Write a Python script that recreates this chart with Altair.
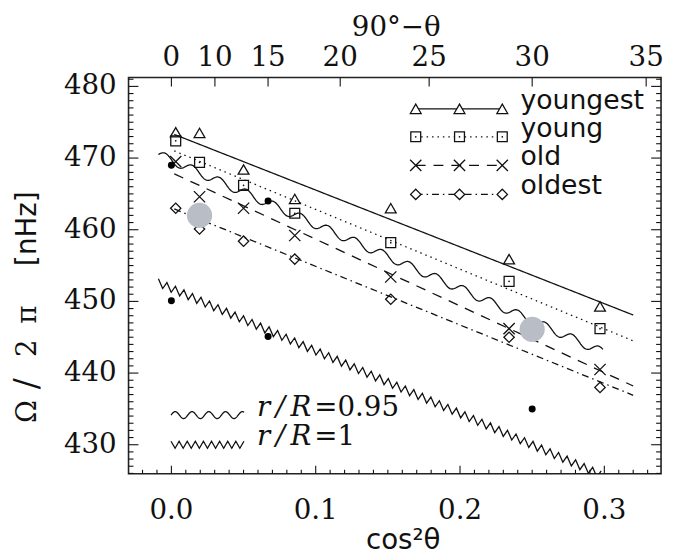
import altair as alt
import numpy as np
import pandas as pd

# ---------------- data ----------------
x_pts = [0.003, 0.0195, 0.050, 0.0855, 0.152, 0.234, 0.297]
youngest = [473.6, 473.5, 468.4, 464.3, 463.0, 455.9, 449.3]
young = [472.4, 469.4, 466.2, 462.3, 458.2, 452.8, 446.2]
old = [469.5, 464.6, 463.0, 459.2, 453.4, 446.2, 440.5]
oldest = [463.0, 460.1, 458.4, 455.9, 450.3, 445.0, 438.0]

fit_x = [0.002, 0.32]
fit_youngest = [473.3, 448.1]
fit_young = [471.0, 444.5]
fit_old = [467.8, 438.2]
fit_oldest = [462.9, 436.9]

dots_x = [0.0, 0.067, 0.0, 0.067, 0.25]
dots_y = [469.0, 464.0, 450.1, 445.1, 435.0]

big_x = [0.0195, 0.25]
big_y = [462.0, 446.1]

wave95_x = [-0.009, 0.299]
wave95_y = [470.5, 442.9]
wave1_x = [-0.009, 0.300]
wave1_y = [452.6, 425.6]

x_ticks = [0.0, 0.1, 0.2, 0.3]
x_labels = ["0.0", "0.1", "0.2", "0.3"]
y_ticks = [430, 440, 450, 460, 470, 480]
top_deg = [0, 10, 15, 20, 25, 30, 35]
names = ["youngest", "young", "old", "oldest"]

# ---------------- layout / style ----------------
W, H = 539, 401
xs = alt.Scale(domain=[-0.0297, 0.3393], nice=False, zero=False)
ys = alt.Scale(domain=[425.96, 481.24], nice=False, zero=False)
INK = "#111111"
SERIF = "DejaVu Serif"
SANS = "DejaVu Sans"
XPATH = "M-1,-1L1,1M-1,1L1,-1"

one = pd.DataFrame({"a": [0]})


def X(f="x"):
    return alt.X(f + ":Q", scale=xs, axis=None)


def Y(f="y"):
    return alt.Y(f + ":Q", scale=ys, axis=None)


def txt(s, x, y, size=28, font=SERIF, style="normal", align="center",
        baseline="middle", angle=None):
    kw = dict(text=s, font=font, fontSize=size, fontStyle=style, align=align,
              baseline=baseline, color=INK)
    if angle is not None:
        kw["angle"] = angle
    return alt.Chart(one).mark_text(**kw).encode(x=alt.value(x), y=alt.value(y))


def wavy(x0, x1, y0, y1, period, amp, kind):
    if kind == "sine":
        xx = np.linspace(x0, x1, 600)
        osc = np.sin(2 * np.pi * (xx - x0) / period)
    else:
        n = int((x1 - x0) / (period / 2))
        xx = x0 + np.arange(n + 1) * period / 2
        osc = np.where(np.arange(n + 1) % 2 == 0, 1.0, -1.0)
    yy = y0 + (y1 - y0) * (xx - x0) / (x1 - x0) + amp * osc
    return xx, yy


styles = {
    "youngest": dict(shape="triangle-up", size=120, dash=[1, 0]),
    "young": dict(shape="square", size=100, dash=[1.5, 4]),
    "old": dict(shape=XPATH, size=130, dash=[10, 8]),
    "oldest": dict(shape="diamond", size=110, dash=[7, 4, 1.5, 4]),
}
vals = dict(youngest=youngest, young=young, old=old, oldest=oldest)
fits = dict(youngest=fit_youngest, young=fit_young, old=fit_old, oldest=fit_oldest)

layers = []

# fit lines
for nm in names:
    df = pd.DataFrame({"x": fit_x, "y": fits[nm]})
    layers.append(alt.Chart(df).mark_line(color=INK, strokeWidth=1.3,
                                          strokeDash=styles[nm]["dash"]).encode(x=X(), y=Y()))

# wavy model curves
wx, wy = wavy(wave95_x[0], wave95_x[1], wave95_y[0], wave95_y[1], 0.0188, 0.6, "sine")
layers.append(alt.Chart(pd.DataFrame({"x": wx, "y": wy})).mark_line(
    color=INK, strokeWidth=1.3).encode(x=X(), y=Y(), order="x:Q"))
zx, zy = wavy(wave1_x[0], wave1_x[1], wave1_y[0], wave1_y[1], 0.0059, 0.55, "zig")
layers.append(alt.Chart(pd.DataFrame({"x": zx, "y": zy})).mark_line(
    color=INK, strokeWidth=1.3, clip=True).encode(x=X(), y=Y(), order="x:Q"))

# symbols
for nm in names:
    df = pd.DataFrame({"x": x_pts, "y": vals[nm]})
    st = styles[nm]
    layers.append(alt.Chart(df).mark_point(shape=st["shape"], size=st["size"], filled=False,
                                           color=INK, strokeWidth=1.3, opacity=1).encode(
        x=X(), y=Y()))
    if nm == "young":
        layers.append(alt.Chart(df).mark_circle(size=3, color=INK, opacity=1).encode(
            x=X(), y=Y()))

# black dots
layers.append(alt.Chart(pd.DataFrame({"x": dots_x, "y": dots_y})).mark_circle(
    size=50, color="black", opacity=1).encode(x=X(), y=Y()))

# big grey circles
layers.append(alt.Chart(pd.DataFrame({"x": big_x, "y": big_y})).mark_circle(
    size=650, color="#b9bec6", opacity=1).encode(x=X(), y=Y()))


# ---------------- ticks (pointing inward) ----------------
def yt(v, x0, x1):
    return alt.Chart(pd.DataFrame({"y": v})).mark_rule(color=INK, strokeWidth=1.1).encode(
        y=Y(), x=alt.value(x0), x2=alt.value(x1))


def xt(v, y0, y1):
    return alt.Chart(pd.DataFrame({"x": v})).mark_rule(color=INK, strokeWidth=1.1).encode(
        x=X(), y=alt.value(y0), y2=alt.value(y1))


y_minor = [v for v in range(426, 482) if v % 10 != 0]
x_minor = [round(v, 2) for v in np.arange(-0.02, 0.335, 0.01)]
x_minor = [v for v in x_minor if round(v * 10, 6) != round(v * 10)]
top_x = [float(np.sin(np.radians(d)) ** 2) for d in top_deg]

layers += [yt(y_ticks, 0, 10), yt(y_minor, 0, 5), yt(y_ticks, W, W - 10), yt(y_minor, W, W - 5),
           xt(x_ticks, H, H - 8), xt(x_minor, H, H - 4), xt(top_x, 0, 9)]

# tick labels
top_df = pd.DataFrame({"x": top_x, "t": [str(d) for d in top_deg]})
layers.append(alt.Chart(top_df).mark_text(font=SERIF, fontSize=28, color=INK,
                                          baseline="middle", align="center").encode(
    x=X(), y=alt.value(-19.5), text="t:N"))
bot_df = pd.DataFrame({"x": x_ticks, "t": x_labels})
layers.append(alt.Chart(bot_df).mark_text(font=SERIF, fontSize=28, color=INK,
                                          baseline="middle", align="center").encode(
    x=X(), y=alt.value(H + 38), text="t:N"))
left_df = pd.DataFrame({"y": y_ticks, "t": [str(v) for v in y_ticks]})
layers.append(alt.Chart(left_df).mark_text(font=SERIF, fontSize=28, color=INK,
                                           baseline="middle", align="right").encode(
    y=Y(), x=alt.value(-12), text="t:N"))

# titles
layers.append(txt("90°−θ", 271, -50))
layers.append(txt("cos²θ", 278, 469, font=SANS))
for g, yy, f, sz in [("Ω", 338, SERIF, 28), ("/", 310, SERIF, 33), ("2", 274, SERIF, 28),
                     ("π", 240, SERIF, 28), ("[nHz]", 153, SANS, 28)]:
    layers.append(txt(g, -102, yy, size=sz, font=f, angle=270))

# ---------------- legend (top right) ----------------
rows_y = [31.7, 60, 89, 118.3]
mk_x = [290.7, 335, 378.3]
for nm, ry in zip(names, rows_y):
    st = styles[nm]
    layers.append(alt.Chart(one).mark_rule(color=INK, strokeWidth=1.3,
                                           strokeDash=st["dash"]).encode(
        x=alt.value(mk_x[0]), x2=alt.value(mk_x[-1]), y=alt.value(ry)))
    mdf = pd.DataFrame({"px": mk_x, "py": [ry] * 3})
    layers.append(alt.Chart(mdf).mark_point(shape=st["shape"], size=st["size"], filled=True,
                                            fill="white", stroke=INK, strokeWidth=1.3,
                                            opacity=1).encode(
        x=alt.X("px:Q", scale=None), y=alt.Y("py:Q", scale=None)))
    if nm == "young":
        layers.append(alt.Chart(mdf).mark_circle(size=3, color=INK, opacity=1).encode(
            x=alt.X("px:Q", scale=None), y=alt.Y("py:Q", scale=None)))
    layers.append(txt(nm, 396.7, ry, size=27, font=SANS, align="left", baseline="alphabetic"))

# ---------------- legend (bottom left) ----------------
lx = np.linspace(43, 117, 300)
ly1 = 341.7 - 3.5 * np.sin(2 * np.pi * (lx - 43) / 17)
layers.append(alt.Chart(pd.DataFrame({"px": lx, "py": ly1})).mark_line(
    color=INK, strokeWidth=1.3).encode(
    x=alt.X("px:Q", scale=None), y=alt.Y("py:Q", scale=None), order="px:Q"))
lz = 43 + np.arange(0, 19) * 4.1
lzy = 371.7 + np.where(np.arange(19) % 2 == 0, -3.5, 3.5)
layers.append(alt.Chart(pd.DataFrame({"px": lz, "py": lzy})).mark_line(
    color=INK, strokeWidth=1.3).encode(
    x=alt.X("px:Q", scale=None), y=alt.Y("py:Q", scale=None), order="px:Q"))
layers.append(txt("r\u2009/\u2009R", 130, 343, style="italic", align="left", baseline="alphabetic"))
layers.append(txt("=0.95", 188, 343, align="left", baseline="alphabetic"))
layers.append(txt("r\u2009/\u2009R", 130, 372, style="italic", align="left", baseline="alphabetic"))
layers.append(txt("=1", 188, 372, align="left", baseline="alphabetic"))

chart = alt.layer(*layers).properties(
    width=W, height=H,
    autosize=alt.AutoSizeParams(type="none"),
    padding={"left": 122, "top": 67, "right": 4, "bottom": 84},
    background="white",
).configure_view(stroke="#222222", strokeWidth=1.6)

chart.save("out.html", embed_options={"renderer": "svg", "actions": False})
